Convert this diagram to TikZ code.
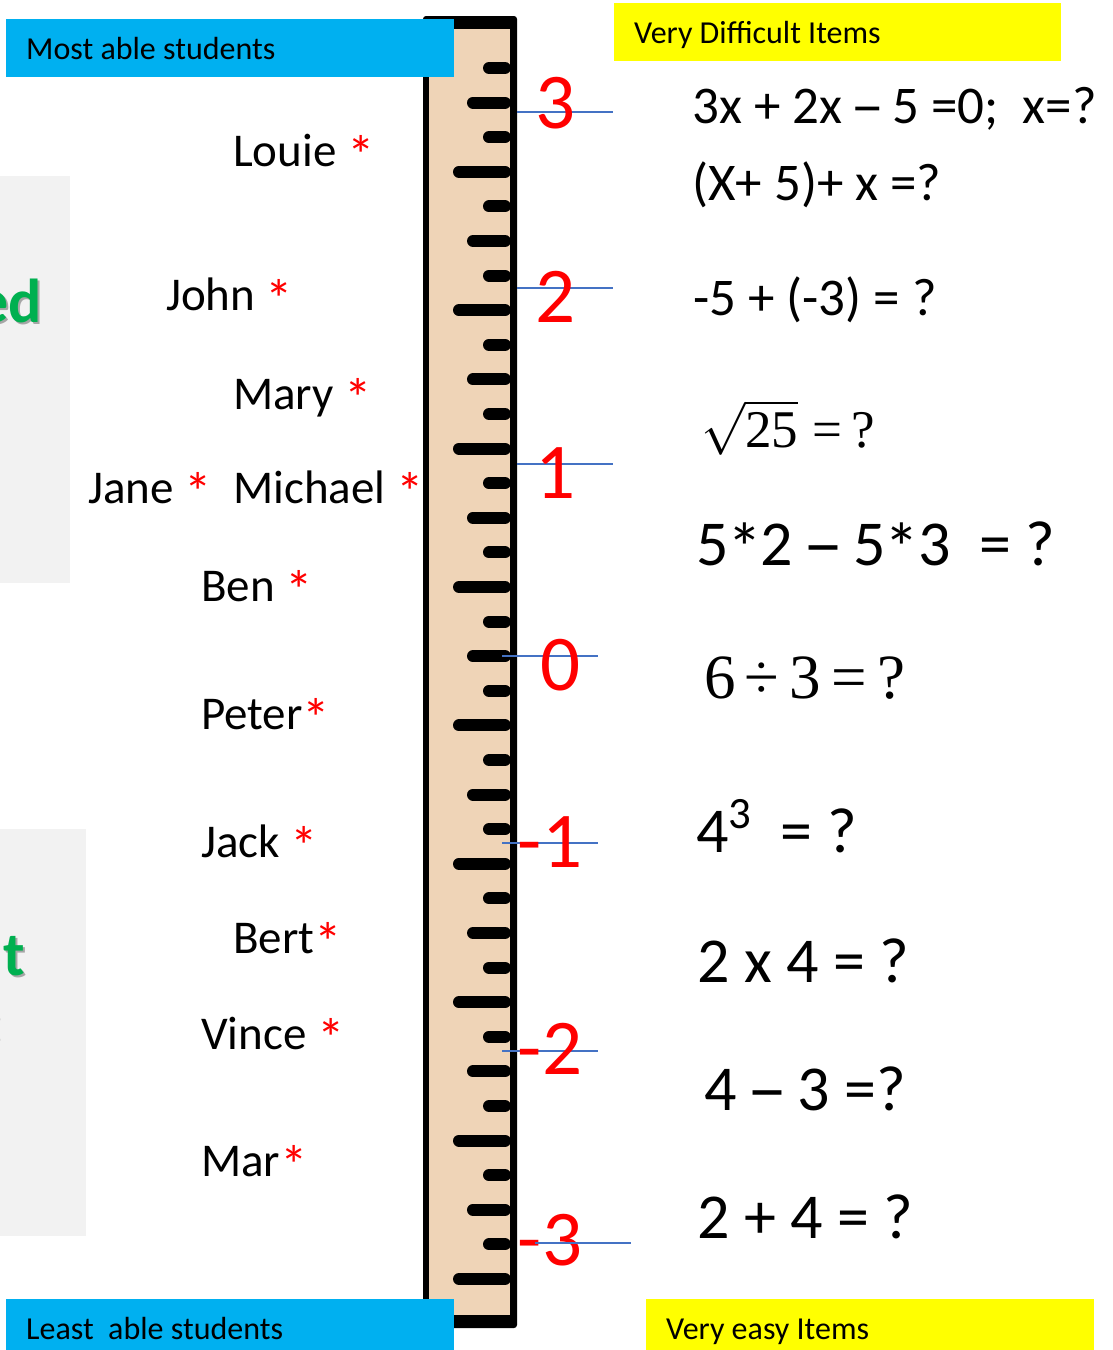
\documentclass[tikz,border=0pt]{standalone}
\usepackage{fix-cm}
\usepackage[no-math]{fontspec}
\setmainfont{Carlito}
\newfontfamily\tms{Liberation Serif}
\newfontfamily\dvs{DejaVu Sans}
\definecolor{skyblue}{RGB}{0,176,240}
\definecolor{hiyellow}{RGB}{255,255,0}
\definecolor{rulertan}{RGB}{239,212,183}
\definecolor{lineblue}{RGB}{68,114,196}
\definecolor{panelgray}{RGB}{242,242,242}
\definecolor{titlegreen}{RGB}{0,176,80}
\newcommand{\redstar}{\textcolor{red}{\raisebox{-8pt}{\fontsize{55}{55}\selectfont *}}}
\newcommand{\itemstar}{\makebox[0.498em]{\raisebox{-7pt}{\fontsize{70}{70}\selectfont *}}}
\newcommand{\longdash}{\makebox[0.498em]{\dvs\scalebox{0.5}[1]{—}}}
\begin{document}
\begin{tikzpicture}[x=1pt,y=-1pt,
  pupil/.style={anchor=base west,inner sep=0pt,font=\fontsize{47}{56}\selectfont},
  itemsm/.style={anchor=base west,inner sep=0pt,font=\fontsize{53}{60}\selectfont},
  itemlg/.style={anchor=base west,inner sep=0pt,font=\fontsize{64}{72}\selectfont},
  scalenum/.style={anchor=base,inner sep=0pt,text=red,font=\fontsize{79}{90}\selectfont},
  hdrtext/.style={anchor=base west,inner sep=0pt,font=\fontsize{32}{38}\selectfont},
  bline/.style={draw=lineblue,line width=1.5pt},
  tickline/.style={line width=12pt,line cap=round,draw=black},
  bigword/.style={anchor=base east,inner sep=0pt,font=\fontsize{62}{72}\selectfont\bfseries}]
\useasboundingbox (0,0) rectangle (1112,1350);
\fill[white] (0,0) rectangle (1112,1350);
% left gray panels (cut off at the picture edge)
\begin{scope}
\clip (0,0) rectangle (1112,1350);
\fill[panelgray] (-10,176) rectangle (70,583);
\fill[panelgray] (-10,829) rectangle (86,1236);
\node[bigword,text=black!35] at (44,324) {ed};
\node[bigword,text=titlegreen] (w1) at (42,322) {ed};
\node[bigword,text=black!35] at (27,977) {t};
\node[bigword,text=titlegreen] (w2) at (25,975) {t};
\node[bigword,text=black!50] (w3) at (5,1044) {:};
\end{scope}
% ruler
\fill[black,rounded corners=3] (423,16) rectangle (517,1328);
\fill[rulertan] (429,29) rectangle (510,1315);
\foreach \i in {0,...,35}{
  \pgfmathsetmacro\ty{68+\i*34.6}
  \pgfmathsetmacro\lx{ifthenelse(mod(\i,2)==0,489,ifthenelse(mod(\i,4)==1,473,459))}
  \draw[tickline] (\lx,\ty) -- (505,\ty);
}
% scale marks
\draw[bline] (517,112) -- (613,112);
\draw[bline] (517,288) -- (613,288);
\draw[bline] (517,464) -- (613,464);
\draw[bline] (502,656) -- (598,656);
\draw[bline] (502,843) -- (598,843);
\draw[bline] (502,1051) -- (598,1051);
\node[scalenum] (s3) at (556,128) {3};
\node[scalenum] (s2) at (556,322) {2};
\node[scalenum] (s1) at (556,498) {1};
\node[scalenum] (s0) at (561,690) {0};
\node[scalenum] (sm1) at (550,867) {-1};
\node[scalenum] (sm2) at (550,1074) {-2};
\node[scalenum] (sm3) at (550,1265) {-3};
\draw[bline] (535,1243) -- (631,1243);
% header boxes
\fill[skyblue] (6,19) rectangle (454,77);
\node[hdrtext] (most) at (26,59) {Most able students};
\fill[skyblue] (6,1299) rectangle (454,1350);
\node[hdrtext] (least) at (26,1339) {Least~~able students};
\fill[hiyellow] (614,3) rectangle (1061,61);
\node[hdrtext] (hard) at (634,43) {Very Difficult Items};
\fill[hiyellow] (646,1299) rectangle (1094,1350);
\node[hdrtext] (easy) at (666,1339) {Very easy Items};
% pupils
\node[pupil] (louie) at (233,166) {Louie \redstar};
\node[pupil] (john) at (166,310) {John \redstar};
\node[pupil] (mary) at (233,409) {Mary \redstar};
\node[pupil] (jane) at (88,503) {Jane \redstar};
\node[pupil] (michael) at (233,503) {Michael \redstar};
\node[pupil] (ben) at (201,601) {Ben \redstar};
\node[pupil] (peter) at (201,729) {Peter\redstar};
\node[pupil] (jack) at (201,857) {Jack \redstar};
\node[pupil] (bert) at (233,953) {Bert\redstar};
\node[pupil] (vince) at (201,1049) {Vince \redstar};
\node[pupil] (mar) at (201,1176) {Mar\redstar};
% items
\node[itemsm] (q1) at (692,123) {3x + 2x \longdash{} 5 =0;~~x=?};
\node[itemsm] (q2) at (692,200) {(X+ 5)+ x =?};
\node[itemsm] (q3) at (693,315) {-5 + (-3) = ?};
\node[anchor=base west,inner sep=0pt,font=\fontsize{53}{62}\selectfont] (q4) at (701,447)
  {$\sqrt{\hbox{\tms 25}}$\hspace{14pt}{\tms =\hspace{9pt}?}};
\node[itemlg] (q5) at (696,565) {5\itemstar2 \longdash{} 5\itemstar3~~= ?};
\node[anchor=base west,inner sep=0pt,font=\fontsize{63}{72}\selectfont\tms] (q6) at (704,698)
  {6\hspace{9pt}÷\hspace{10pt}3\hspace{11pt}=\hspace{10pt}?};
\node[itemlg] (q7) at (696,852) {4\textsuperscript{3}~~= ?};
\node[itemlg] (q8) at (697,982) {2 x 4 = ?};
\node[itemlg] (q9) at (704,1110) {4 \longdash{} 3 =?};
\node[itemlg] (q10) at (697,1238) {2 + 4 = ?};
\end{tikzpicture}
\end{document}
